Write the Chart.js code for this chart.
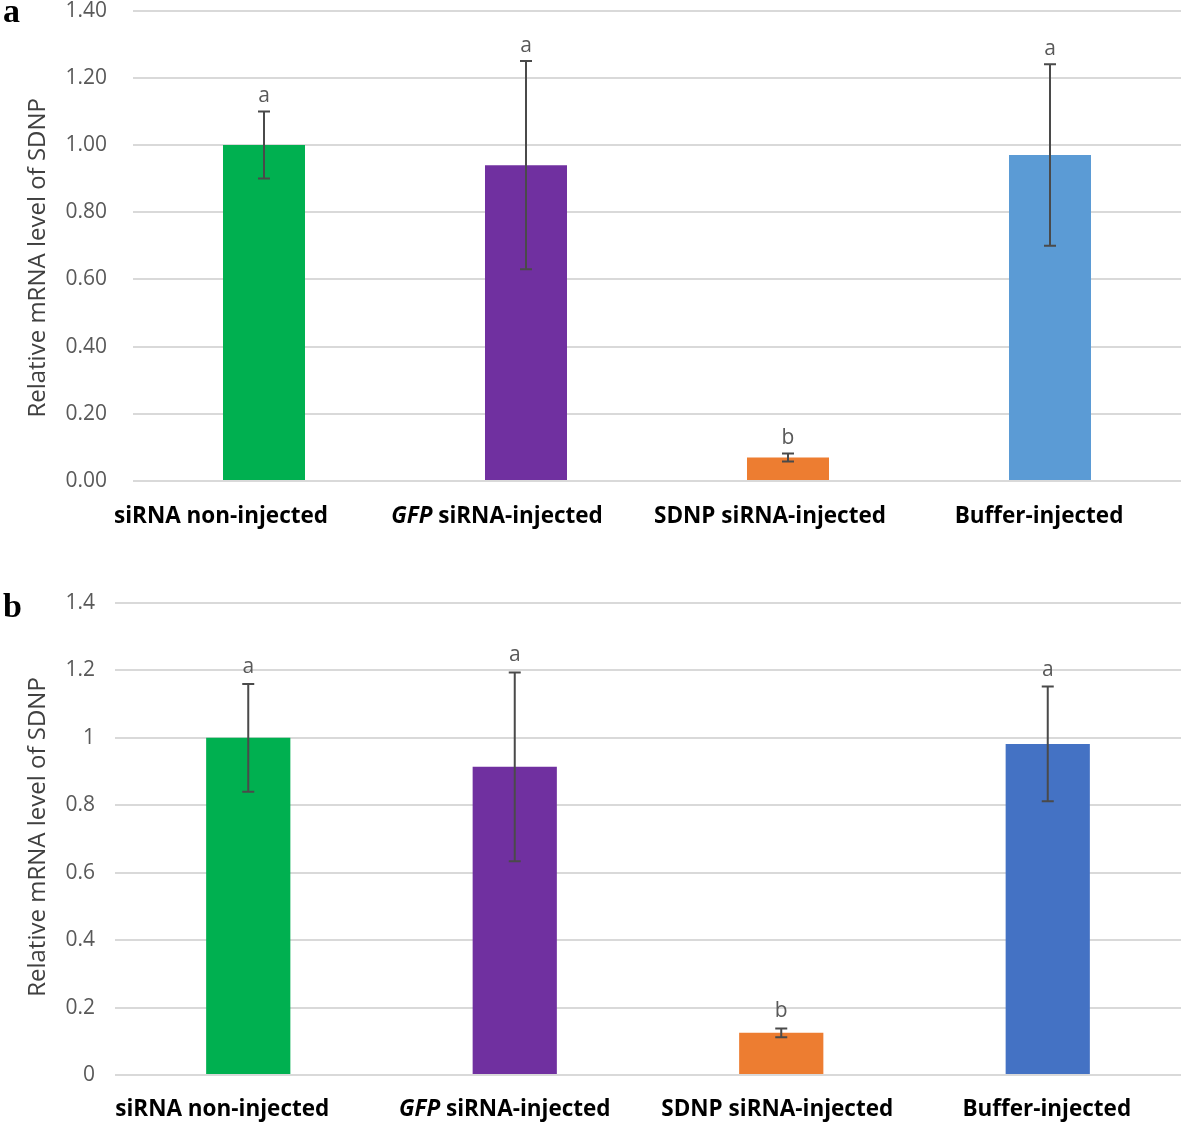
<!DOCTYPE html>
<html lang="en">
<head>
<meta charset="UTF-8">
<title>Relative mRNA level of SDNP</title>
<script src="https://cdn.jsdelivr.net/npm/chart.js"></script>
<style>
  body { margin: 0; background: #fff; width: 1181px; height: 1125px; position: relative; overflow: hidden; }
  .panel { position: absolute; left: 0; width: 1181px; }
  #wrapA { top: -28px; height: 573px; }
  #wrapB { top: 560px; height: 565px; }
</style>
</head>
<body>
<div class="panel" id="wrapA"><canvas id="chartA" width="1181" height="573"></canvas></div>
<div class="panel" id="wrapB"><canvas id="chartB" width="1181" height="565"></canvas></div>
<script>
const categories = ['siRNA non-injected', 'GFP siRNA-injected', 'SDNP siRNA-injected', 'Buffer-injected'];
const italicWords = ['GFP'];

// panel a
const valuesA = [1.00, 0.94, 0.07, 0.97];
const errorsA = [0.10, 0.31, 0.012, 0.27];
const lettersA = ['a', 'a', 'b', 'a'];
const colorsA = ['#00B050', '#7030A0', '#ED7D31', '#5B9BD5'];

// panel b
const valuesB = [1.00, 0.914, 0.125, 0.982];
const errorsB = [0.16, 0.28, 0.013, 0.17];
const lettersB = ['a', 'a', 'b', 'a'];
const colorsB = ['#00B050', '#7030A0', '#ED7D31', '#4472C4'];

const yTicks = [0, 0.2, 0.4, 0.6, 0.8, 1.0, 1.2, 1.4];
const yTitle = 'Relative mRNA level of SDNP';
const FONT = '"Open Sans", "Noto Sans", sans-serif';

const decor = {
    id: 'decor',
    afterDatasetsDraw(chart, args, opts) {
        const ctx = chart.ctx;
        const xs = chart.scales.x, ys = chart.scales.y;
        const vals = chart.data.datasets[0].data;
        ctx.save();
        vals.forEach((v, i) => {
            const cx = xs.getPixelForValue(i);
            const top = ys.getPixelForValue(v + opts.errors[i]);
            const bot = ys.getPixelForValue(v - opts.errors[i]);
            ctx.strokeStyle = '#4a4a4a';
            ctx.lineWidth = 2;
            ctx.beginPath();
            ctx.moveTo(cx, top); ctx.lineTo(cx, bot);
            ctx.moveTo(cx - 6, top); ctx.lineTo(cx + 6, top);
            ctx.moveTo(cx - 6, bot); ctx.lineTo(cx + 6, bot);
            ctx.stroke();
            ctx.fillStyle = '#595959';
            ctx.font = '21px ' + FONT;
            ctx.textAlign = 'center';
            ctx.textBaseline = 'alphabetic';
            ctx.fillText(opts.letters[i], cx, top - opts.letterGap);
        });

        // category labels, some words italic (the figure has them a bit left of the bars)
        ctx.fillStyle = '#000';
        ctx.textAlign = 'left';
        ctx.textBaseline = 'middle';
        chart.data.labels.forEach((lab, i) => {
            const cx = xs.getPixelForValue(i) + opts.labelShift[i];
            const words = lab.split(' ');
            const parts = words.map((w, k) => ({
                t: (k < words.length - 1) ? w + ' ' : w,
                f: (italicWords.includes(w) ? 'italic ' : '') + 'bold ' + opts.labelSize + 'px ' + FONT
            }));
            let total = 0;
            parts.forEach(p => { ctx.font = p.f; p.w = ctx.measureText(p.t).width; total += p.w; });
            let x = cx - total / 2;
            const y = xs.bottom - xs.height + opts.labelOffset;
            parts.forEach(p => { ctx.font = p.f; ctx.fillText(p.t, x, y); x += p.w; });
        });
        ctx.restore();
    },
    afterDraw(chart, args, opts) {
        const ctx = chart.ctx;
        const area = chart.chartArea;
        ctx.save();
        ctx.translate(opts.titleX, (area.top + area.bottom) / 2 + opts.titleShift);
        ctx.rotate(-Math.PI / 2);
        ctx.fillStyle = '#404040';
        ctx.font = opts.titleSize + 'px ' + FONT;
        ctx.textAlign = 'center';
        ctx.textBaseline = 'middle';
        ctx.fillText(yTitle, 0, 0);
        ctx.restore();

        ctx.save();
        ctx.fillStyle = '#000';
        ctx.font = 'bold 34px "Liberation Serif", "DejaVu Serif", serif';
        ctx.textAlign = 'left';
        ctx.textBaseline = 'alphabetic';
        ctx.fillText(opts.panel, 3, opts.panelY);
        ctx.restore();
    }
};

function makeChart(id, values, colors, opt) {
    const ctx = document.getElementById(id).getContext('2d');
    return new Chart(ctx, {
        type: 'bar',
        data: {
            labels: categories,
            datasets: [{
                data: values,
                backgroundColor: colors,
                borderWidth: 0,
                barPercentage: opt.barPct,
                categoryPercentage: 1.0
            }]
        },
        options: {
            responsive: false,
            animation: false,
            layout: { padding: { top: opt.padTop, right: 0, left: 0, bottom: 0 } },
            plugins: {
                legend: { display: false },
                tooltip: { enabled: false },
                decor: opt.decor
            },
            scales: {
                x: {
                    grid: { display: false },
                    border: { display: false },
                    ticks: { display: false },
                    afterFit(scale) { scale.height = opt.xHeight; }
                },
                y: {
                    min: 0,
                    max: 1.4,
                    afterBuildTicks(scale) { scale.ticks = yTicks.map(v => ({ value: v })); },
                    ticks: {
                        color: '#595959',
                        font: { family: FONT, size: 21 },
                        padding: opt.tickPad,
                        callback: opt.fmt
                    },
                    grid: { color: '#d9d9d9', lineWidth: 2, drawTicks: false },
                    border: { display: false },
                    afterFit(scale) { scale.width = opt.yWidth; }
                }
            }
        },
        plugins: [decor]
    });
}

makeChart('chartA', valuesA, colorsA, {
    barPct: 0.313, padTop: 38, xHeight: 64, yWidth: 133, tickPad: 26,
    fmt: v => v.toFixed(2),
    decor: { errors: errorsA, letters: lettersA, letterGap: 9, labelSize: 22.5, labelOffset: 36,
             labelShift: [-43, -29, -18, -11],
             titleX: 38, titleShift: 12, titleSize: 24, panel: 'a', panelY: 50 }
});

makeChart('chartB', valuesB, colorsB, {
    barPct: 0.316, padTop: 43, xHeight: 50, yWidth: 115, tickPad: 20,
    fmt: v => String(Number(v.toFixed(1))),
    decor: { errors: errorsB, letters: lettersB, letterGap: 11, labelSize: 22.5, labelOffset: 35,
             labelShift: [-26, -10, -4, -1],
             titleX: 38, titleShift: -2, titleSize: 24, panel: 'b', panelY: 57 }
});
</script>
</body>
</html>
